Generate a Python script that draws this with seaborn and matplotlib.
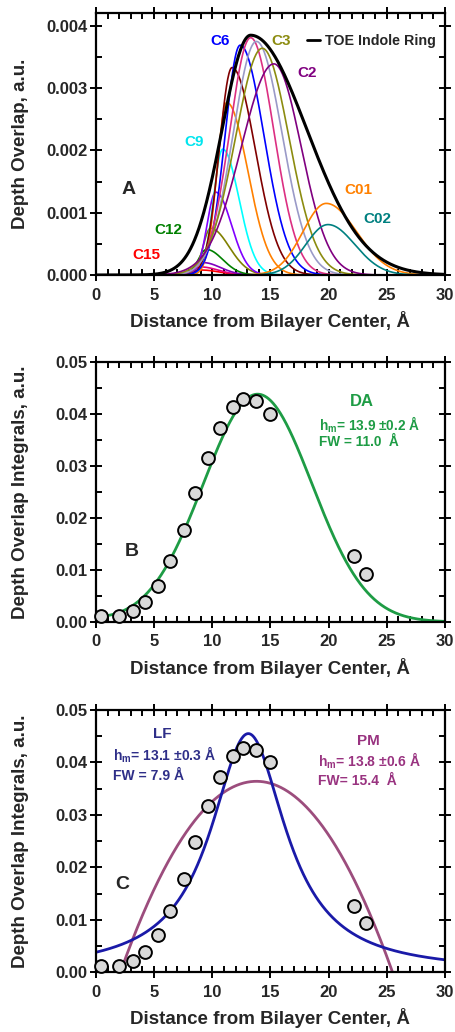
import numpy as np
import pandas as pd
import matplotlib
matplotlib.use('Agg')
import matplotlib.pyplot as plt
from matplotlib.lines import Line2D
from matplotlib.ticker import MultipleLocator, FormatStrFormatter
import seaborn as sns

# ---- panel A: depth overlap of each carbon with the indole ring ----
carbons = ['C15', 'C14', 'C13', 'C12', 'C11', 'C10', 'C9', 'C8',
           'C7', 'C6', 'C5', 'C4', 'C3', 'C2', 'C01', 'C02']
peak_x = [9.1, 9.0, 9.2, 9.5, 9.85, 10.3, 10.9, 11.25,
          11.7, 12.4, 13.3, 13.8, 14.3, 15.3, 19.8, 19.95]
peak_y = [0.00008, 0.00013, 0.00020, 0.00041, 0.00075, 0.00133, 0.00202, 0.00277,
          0.00333, 0.00369, 0.00381, 0.00375, 0.00364, 0.00339, 0.00115, 0.00081]
width_left = [0.7, 0.7, 0.7, 0.7, 0.65, 0.75, 0.8, 0.85,
              1.1, 1.3, 1.8, 2.0, 2.3, 2.8, 2.0, 1.9]
width_right = [1.5, 1.5, 1.5, 1.4, 1.6, 1.35, 1.4, 1.8,
               2.0, 2.05, 2.0, 2.2, 2.3, 2.35, 2.6, 2.3]
carbon_colors = ['#ff0000', '#e6007e', '#8000c0', '#008000', '#808000', '#8000ff',
                 '#00ffff', '#ff8000', '#800000', '#0000ff', '#dc2f82', '#9a9ac8',
                 '#8c8c10', '#800080', '#ff8000', '#008080']

# TOE indole ring envelope
ring_x, ring_y, ring_left, ring_right = 13.3, 0.00385, 2.46, 4.84

# labels in panel A
a_labels = ['C6', 'C3', 'C2', 'C9', 'C12', 'C15', 'C01', 'C02']
a_label_x = [10.7, 15.9, 18.2, 8.4, 6.2, 4.3, 22.6, 24.2]
a_label_y = [0.00375, 0.00375, 0.00324, 0.00213, 0.00072, 0.00032, 0.00137, 0.00090]
a_label_colors = ['#0000ff', '#8c8c10', '#800080', '#00e5ee', '#008000', '#ff0000',
                  '#ff8000', '#008080']

# ---- panels B and C: depth overlap integrals ----
dist = [0.4, 2.0, 3.2, 4.2, 5.35, 6.4, 7.55, 8.55, 9.65, 10.65, 11.75, 12.6,
        13.8, 14.95, 22.2, 23.2]
integral = [0.0012, 0.0012, 0.0021, 0.0039, 0.0070, 0.0117, 0.0177, 0.0248, 0.0316,
            0.0373, 0.0413, 0.0428, 0.0424, 0.0400, 0.0127, 0.0093]

# fitted models (amplitude, most probable depth, width)
da_amp, da_hm, da_fw = 0.0438, 13.9, 11.0
lf_amp, lf_hm, lf_fw = 0.0455, 13.1, 7.9
pm_amp, pm_hm, pm_half = 0.0364, 13.8, 11.7

green = '#1e9c45'
lf_color, lf_text = '#1a1aa8', '#2e2e88'
pm_color, pm_text = '#9c4d7d', '#993380'

sns.set_style('ticks')
plt.rcParams['font.family'] = ['Liberation Sans', 'DejaVu Sans']
plt.rcParams['font.weight'] = 'bold'
plt.rcParams['axes.labelweight'] = 'bold'
plt.rcParams['mathtext.fontset'] = 'custom'
plt.rcParams['mathtext.rm'] = 'Liberation Sans:bold'
plt.rcParams['mathtext.it'] = 'Liberation Sans:bold'
plt.rcParams['mathtext.bf'] = 'Liberation Sans:bold'

xs = np.linspace(0, 30, 901)


def split_gauss(x, c, h, sl, sr):
    s = np.where(x < c, sl, sr)
    return h * np.exp(-(x - c) ** 2 / (2 * s ** 2))


def style_axes(ax, ymax, ymajor, fmt, ylabel):
    ax.set_xlim(0, 30)
    ax.set_ylim(0, ymax)
    ax.xaxis.set_major_locator(MultipleLocator(5))
    ax.xaxis.set_minor_locator(MultipleLocator(1))
    ax.yaxis.set_major_locator(MultipleLocator(ymajor))
    ax.yaxis.set_minor_locator(MultipleLocator(ymajor / 2))
    ax.yaxis.set_major_formatter(FormatStrFormatter(fmt))
    ax.tick_params(which='both', top=True, right=True, width=1.4, color='black')
    ax.tick_params(which='major', direction='inout', length=8, labelsize=12)
    ax.tick_params(axis='x', which='major', pad=5)
    ax.tick_params(axis='y', which='major', pad=2)
    ax.tick_params(which='minor', direction='in', length=4)
    for s in ax.spines.values():
        s.set_linewidth(1.6)
        s.set_color('black')
        s.set_visible(True)
    ax.set_xlabel('Distance from Bilayer Center, Å', fontsize=13.5, labelpad=6)
    ax.set_ylabel(ylabel, fontsize=13.5)
    ax.yaxis.set_label_coords(-0.192, 0.5)
    for lab in ax.get_xticklabels() + ax.get_yticklabels():
        lab.set_fontweight('bold')


fig = plt.figure(figsize=(4.56, 10.32), dpi=100)
axA = fig.add_axes([0.2105, 0.7335, 0.765, 0.2535])
axB = fig.add_axes([0.2105, 0.3973, 0.765, 0.2520])
axC = fig.add_axes([0.2105, 0.0580, 0.765, 0.2540])

# ---- A ----
for i, name in enumerate(carbons):
    ys = split_gauss(xs, peak_x[i], peak_y[i], width_left[i], width_right[i])
    sns.lineplot(x=xs, y=ys, color=carbon_colors[i], lw=1.2, ax=axA)
env = split_gauss(xs, ring_x, ring_y, ring_left, ring_right)
sns.lineplot(x=xs, y=env, color='black', lw=2.2, ax=axA)
for t, x, y, c in zip(a_labels, a_label_x, a_label_y, a_label_colors):
    axA.text(x, y, t, color=c, fontsize=11, fontweight='bold', ha='center', va='center')
axA.text(2.8, 0.00137, 'A', fontsize=14, fontweight='bold', ha='center', va='center')
axA.legend(handles=[Line2D([], [], color='black', lw=2)], labels=['TOE Indole Ring'],
           loc='center right', bbox_to_anchor=(1.0, 0.894), frameon=False, handlelength=0.9,
           handletextpad=0.4, borderaxespad=0.2, prop={'size': 10.3, 'weight': 'bold'})
style_axes(axA, 0.0042, 0.001, '%.3f', 'Depth Overlap, a.u.')

# ---- B ----
da = da_amp * (np.exp(-(xs - da_hm) ** 2 / (2 * (da_fw / 2.355) ** 2))
               + np.exp(-(xs + da_hm) ** 2 / (2 * (da_fw / 2.355) ** 2)))
sns.lineplot(x=xs, y=da, color=green, lw=2.0, ax=axB)
pts = pd.DataFrame({'dist': dist, 'integral': integral})
sns.scatterplot(data=pts, x='dist', y='integral', s=85, color='#d9d9d9',
                edgecolor='black', linewidth=1.4, zorder=5, ax=axB, clip_on=False)
axB.text(22.9, 0.0424, 'DA', color=green, fontsize=12, fontweight='bold', ha='center', va='center')
axB.text(19.2, 0.0379, r'h$_\mathrm{m}$= 13.9 ±0.2 Å', color=green, fontsize=9.8,
         fontweight='bold', ha='left', va='center')
axB.text(19.2, 0.0347, 'FW = 11.0  Å', color=green, fontsize=9.8, fontweight='bold',
         ha='left', va='center')
axB.text(3.1, 0.0135, 'B', fontsize=14, fontweight='bold', ha='center', va='center')
style_axes(axB, 0.05, 0.01, '%.2f', 'Depth Overlap Integrals, a.u.')

# ---- C ----
lf = lf_amp / (1 + ((xs - lf_hm) / (lf_fw / 2)) ** 2)
pm_x = xs[(xs > pm_hm - pm_half) & (xs < pm_hm + pm_half)]
pm = pm_amp * (1 - ((pm_x - pm_hm) / pm_half) ** 2)
sns.lineplot(x=pm_x, y=pm, color=pm_color, lw=2.0, ax=axC)
sns.lineplot(x=xs, y=lf, color=lf_color, lw=2.0, ax=axC)
sns.scatterplot(data=pts, x='dist', y='integral', s=85, color='#d9d9d9',
                edgecolor='black', linewidth=1.4, zorder=5, ax=axC, clip_on=False)
axC.text(5.7, 0.0454, 'LF', color=lf_text, fontsize=11, fontweight='bold', ha='center', va='center')
axC.text(1.5, 0.0415, r'h$_\mathrm{m}$= 13.1 ±0.3 Å', color=lf_text, fontsize=10,
         fontweight='bold', ha='left', va='center')
axC.text(1.5, 0.0374, 'FW = 7.9 Å', color=lf_text, fontsize=10, fontweight='bold',
         ha='left', va='center')
axC.text(23.4, 0.0441, 'PM', color=pm_text, fontsize=11, fontweight='bold', ha='center', va='center')
axC.text(19.1, 0.0403, r'h$_\mathrm{m}$= 13.8 ±0.6 Å', color=pm_text, fontsize=10,
         fontweight='bold', ha='left', va='center')
axC.text(19.1, 0.0365, 'FW= 15.4  Å', color=pm_text, fontsize=10, fontweight='bold',
         ha='left', va='center')
axC.text(2.3, 0.0167, 'C', fontsize=14, fontweight='bold', ha='center', va='center')
style_axes(axC, 0.05, 0.01, '%.2f', 'Depth Overlap Integrals, a.u.')

fig.savefig('out.png', dpi=100)
